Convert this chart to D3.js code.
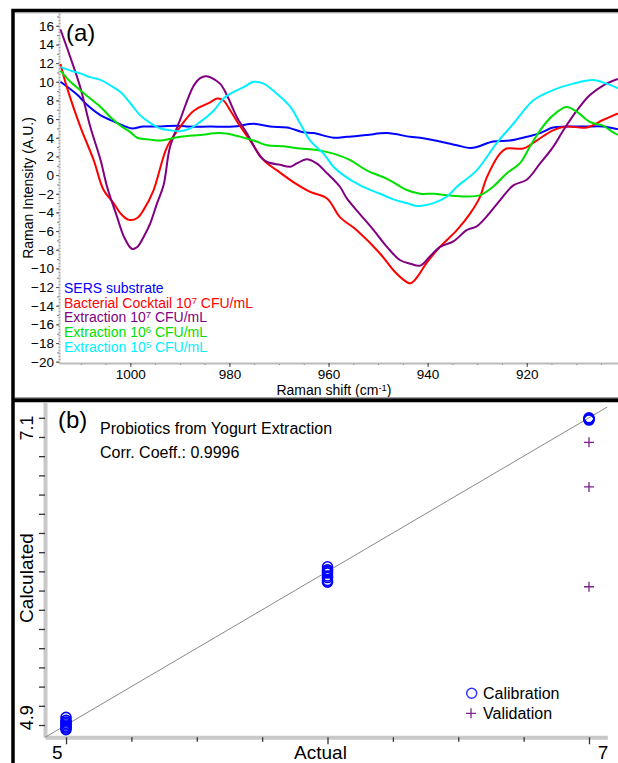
<!DOCTYPE html>
<html>
<head>
<meta charset="utf-8">
<script src="https://cdn.jsdelivr.net/npm/d3@7"></script>
<style>
body { margin: 0; background: #fff; }
text { font-family: "Liberation Sans", Arial, sans-serif; }
</style>
</head>
<body>
<div id="chart"></div>
<script>

// ---------- panel (a): Raman spectra ----------
var sersShift = [1014.1, 1010.7, 1008.7, 1006.0, 1004.0, 1001.4, 999.7, 997.4, 993.9, 990.6, 988.6, 983.9, 979.2, 975.1, 971.8, 968.4, 965.1, 963.0, 959.0, 956.3, 952.3, 948.2, 943.5, 941.5, 937.5, 934.1, 931.4, 930.1, 926.8, 923.4, 920.0, 917.3, 914.7, 912.0, 907.9, 904.6, 901.6];
var sersVal   = [10.0, 8.6, 7.5, 6.4, 5.9, 5.3, 5.0, 5.2, 5.2, 5.3, 5.2, 5.2, 5.2, 5.5, 5.2, 5.1, 4.6, 4.5, 4.0, 4.1, 4.3, 4.5, 4.1, 4.0, 3.6, 3.2, 2.9, 3.0, 3.6, 3.7, 4.1, 4.5, 5.1, 5.2, 5.2, 5.2, 4.9];

var cocktailShift = [1014.1, 1012.8, 1010.1, 1007.4, 1005.4, 1003.4, 1002.0, 1000.3, 998.6, 997.3, 995.3, 992.6, 989.9, 987.2, 983.9, 982.5, 981.2, 979.8, 977.8, 975.8, 973.1, 970.4, 967.1, 963.7, 960.3, 957.7, 954.3, 949.6, 946.9, 944.9, 943.5, 942.2, 940.2, 937.5, 934.1, 931.4, 929.4, 928.1, 925.4, 924.1, 920.7, 918.0, 914.7, 912.0, 907.9, 904.6, 901.6];
var cocktailVal   = [11.9, 9.4, 5.2, 1.6, -1.6, -3.0, -4.1, -4.8, -4.6, -3.7, -1.6, 3.0, 5.2, 6.9, 7.8, 8.2, 8.0, 6.9, 5.2, 3.7, 1.6, 0.5, -0.75, -1.8, -2.5, -4.5, -5.9, -8.4, -10.2, -11.2, -11.6, -11.0, -9.4, -7.7, -5.9, -4.1, -2.3, -0.3, 2.3, 2.85, 2.85, 3.7, 4.8, 5.2, 5.1, 5.9, 6.6];

var ext7Shift = [1014.1, 1012.1, 1010.1, 1008.1, 1006.0, 1004.7, 1002.7, 1001.3, 999.7, 998.6, 997.3, 996.0, 994.6, 993.3, 992.0, 989.9, 987.3, 985.9, 984.6, 981.9, 980.5, 978.5, 976.5, 973.8, 972.4, 969.8, 967.7, 966.4, 964.4, 962.4, 960.3, 957.7, 956.3, 953.8, 950.9, 948.2, 945.6, 943.5, 941.5, 939.5, 937.5, 934.8, 932.1, 930.1, 928.1, 925.4, 922.7, 920.0, 917.3, 914.7, 912.6, 909.9, 907.3, 904.6, 901.6];
var ext7Val   = [15.6, 12.6, 9.4, 5.2, 1.6, -1.25, -4.45, -6.6, -7.9, -7.7, -6.6, -5.2, -3.0, -1.1, 3.0, 6.0, 9.5, 10.4, 10.6, 9.8, 8.55, 6.2, 4.5, 2.0, 1.4, 1.1, 0.9, 1.25, 1.7, 1.25, 0.2, -1.25, -2.5, -4.1, -5.9, -7.7, -9.1, -9.5, -9.7, -8.7, -7.7, -7.1, -5.9, -5.5, -4.45, -2.7, -1.1, -0.5, 1.25, 3.0, 4.8, 6.9, 8.55, 9.6, 10.3];

var ext6Shift = [1014.1, 1012.1, 1010.1, 1008.1, 1006.0, 1004.0, 1002.0, 1000.0, 998.6, 996.0, 993.9, 991.9, 989.9, 985.9, 981.9, 979.2, 975.1, 972.4, 969.1, 965.7, 962.4, 959.0, 955.6, 952.3, 948.2, 944.2, 941.5, 938.8, 935.5, 932.1, 929.4, 926.8, 924.0, 921.4, 919.4, 917.3, 914.7, 912.0, 909.9, 907.3, 904.6, 902.6, 901.6];
var ext6Val   = [11.2, 10.0, 9.1, 8.2, 7.3, 6.2, 5.3, 4.6, 4.0, 3.8, 3.7, 3.9, 4.1, 4.3, 4.5, 4.3, 3.7, 3.2, 3.1, 2.85, 2.7, 2.3, 1.6, 0.5, -0.4, -1.6, -2.0, -2.0, -2.2, -2.3, -2.15, -1.25, 0.2, 1.25, 3.0, 4.8, 6.4, 7.3, 6.8, 5.7, 5.3, 4.6, 4.3];

var ext5Shift = [1014.1, 1012.1, 1010.1, 1008.1, 1006.0, 1004.0, 1002.0, 1000.0, 998.0, 996.0, 993.9, 991.9, 989.9, 987.9, 985.9, 983.2, 981.2, 979.2, 977.2, 975.1, 973.1, 970.4, 967.7, 965.7, 963.7, 961.0, 959.0, 957.0, 953.6, 949.6, 946.9, 944.2, 942.2, 938.8, 936.1, 934.1, 930.1, 926.1, 922.7, 918.7, 914.7, 910.6, 906.6, 903.9, 901.6];
var ext5Val   = [11.6, 11.2, 10.9, 10.5, 10.2, 9.6, 8.9, 7.7, 6.4, 5.6, 5.0, 4.8, 4.7, 5.0, 5.7, 6.9, 8.2, 8.9, 9.4, 10.0, 9.8, 8.7, 7.3, 5.5, 3.7, 2.3, 0.9, 0.0, -1.1, -2.0, -2.6, -3.0, -3.3, -3.0, -2.3, -1.25, 0.5, 3.4, 5.5, 8.0, 9.1, 9.8, 10.2, 9.8, 9.3];

// legend text: [before superscript, superscript, after]
var legendA = [
  ["SERS substrate", "", ""],
  ["Bacterial Cocktail 10", "7", " CFU/mL"],
  ["Extraction 10", "7", " CFU/mL"],
  ["Extraction 10", "6", " CFU/mL"],
  ["Extraction 10", "5", " CFU/mL"]
];
var colorsA = ["#0000ff", "#ff0000", "#800080", "#00e000", "#00f0ff"];
var yTicksA = d3.range(-20, 17, 2);
var xTicksA = [1000, 980, 960, 940, 920];

// ---------- panel (b): calculated vs actual ----------
var calActual = [5, 5, 5, 5, 5, 5, 5, 5, 6, 6, 6, 6, 6, 6, 6, 6, 7, 7, 7, 7];
var calCalc   = [5.05, 5.03, 5.02, 5.01, 5.0, 4.99, 4.98, 4.97, 6.03, 6.01, 6.0, 5.99, 5.97, 5.96, 5.94, 5.93, 7.0, 6.995, 6.99, 6.985];
var valActual = [7, 7, 7];
var valCalc   = [6.84, 6.55, 5.90];

var svg = d3.select("#chart").append("svg")
    .attr("width", 618)
    .attr("height", 763)
    .style("background", "#fff");

// ===== panel (a) =====
var xa = d3.scaleLinear().domain([1014.4, 900]).range([59, 625.8]);
var ya = d3.scaleLinear().domain([-20.15, 17.5]).range([363.1, 11.8]);

svg.append("clipPath").attr("id", "clipA")
  .append("rect").attr("x", 59).attr("y", 12).attr("width", 560).attr("height", 352);

// minor ticks
svg.append("g")
    .attr("transform", "translate(59,0)")
    .call(d3.axisLeft(ya).tickValues(d3.range(-20, 18, 1)).tickSize(2).tickFormat("").tickSizeOuter(0))
    .call(function(g) { g.select(".domain").remove(); g.selectAll("line").attr("stroke", "#777"); });

var yAxA = svg.append("g")
    .attr("transform", "translate(59,0)")
    .call(d3.axisLeft(ya).tickValues(yTicksA).tickSize(3).tickPadding(2).tickSizeOuter(0));
yAxA.select(".domain").attr("stroke", "#aaa").attr("stroke-width", 2).attr("stroke-dasharray", "2,1");
yAxA.selectAll("line").attr("stroke", "#555");
yAxA.selectAll("text").style("font-size", "13.5px").attr("fill", "#000");

svg.append("g")
    .attr("transform", "translate(0,363)")
    .call(d3.axisBottom(xa).tickValues(d3.range(1010, 900, -5)).tickSize(2).tickFormat("").tickSizeOuter(0))
    .call(function(g) { g.select(".domain").remove(); g.selectAll("line").attr("stroke", "#555"); });

var xAxA = svg.append("g")
    .attr("transform", "translate(0,363)")
    .call(d3.axisBottom(xa).tickValues(xTicksA).tickFormat(d3.format("d")).tickSize(4).tickPadding(2).tickSizeOuter(0));
xAxA.select(".domain").attr("stroke", "#bbb").attr("stroke-width", 2);
xAxA.selectAll("line").attr("stroke", "#444");
xAxA.selectAll("text").style("font-size", "13.5px").attr("fill", "#000");

var seriesA = [
  [sersShift, sersVal],
  [cocktailShift, cocktailVal],
  [ext7Shift, ext7Val],
  [ext6Shift, ext6Val],
  [ext5Shift, ext5Val]
];

var lineA = d3.line()
    .x(function(d) { return xa(d[0]); })
    .y(function(d) { return ya(d[1]); })
    .curve(d3.curveCatmullRom.alpha(0.5));

var gLines = svg.append("g").attr("clip-path", "url(#clipA)");
seriesA.forEach(function(s, i) {
  var pts = s[0].map(function(x, j) { return [x, s[1][j]]; });
  gLines.append("path")
      .datum(pts)
      .attr("fill", "none")
      .attr("stroke", colorsA[i])
      .attr("stroke-width", 2)
      .attr("stroke-linejoin", "round")
      .attr("d", lineA);
});

// legend (a)
legendA.forEach(function(l, i) {
  var t = svg.append("text")
      .attr("x", 64)
      .attr("y", 293 + i * 14.7)
      .attr("fill", colorsA[i])
      .style("font-size", "14px");
  t.append("tspan").text(l[0]);
  if (l[1]) {
    t.append("tspan").attr("dy", -4).style("font-size", "9.5px").text(l[1]);
    t.append("tspan").attr("dy", 4).text(l[2]);
  }
});

svg.append("text")
    .attr("x", 66).attr("y", 41)
    .style("font-size", "24px")
    .text("(a)");

var xLab = svg.append("text")
    .attr("x", 334).attr("y", 395)
    .attr("text-anchor", "middle")
    .style("font-size", "14px");
xLab.append("tspan").text("Raman shift (cm");
xLab.append("tspan").attr("dy", -4).style("font-size", "9.5px").text("-1");
xLab.append("tspan").attr("dy", 4).text(")");

svg.append("text")
    .attr("transform", "translate(33,188) rotate(-90)")
    .attr("text-anchor", "middle")
    .style("font-size", "14px")
    .text("Raman Intensity (A.U.)");

// ===== panel (b) =====
var xb = d3.scaleLinear().domain([4.92, 7.07]).range([45.1, 607.3]);
var yb = d3.scaleLinear().domain([4.92, 7.1]).range([737.3, 402.4]);

var yAxB = svg.append("g")
    .attr("transform", "translate(45,0)")
    .call(d3.axisLeft(yb).tickValues(d3.range(5, 7.01, 0.125)).tickSize(6).tickFormat("").tickSizeOuter(0));
yAxB.select(".domain").attr("stroke", "#c8c8c8").attr("stroke-width", 4);
yAxB.selectAll("line").attr("stroke", "#333").attr("stroke-width", 1.3);

var xAxB = svg.append("g")
    .attr("transform", "translate(0,737.3)")
    .call(d3.axisBottom(xb).tickValues(d3.range(5.25, 7, 0.25).filter(function(v) { return v !== 6; })).tickSize(4.5).tickFormat("").tickSizeOuter(0));
xAxB.select(".domain").attr("stroke", "#c8c8c8").attr("stroke-width", 4);
xAxB.selectAll("line").attr("stroke", "#333").attr("stroke-width", 1.3);

svg.append("g")
    .attr("transform", "translate(0,737.3)")
    .call(d3.axisBottom(xb).tickValues([5, 6, 7]).tickSize(7).tickFormat("").tickSizeOuter(0))
    .call(function(g) { g.select(".domain").remove(); g.selectAll("line").attr("stroke", "#333").attr("stroke-width", 1.3); });

// end labels of the axes
var fy = d3.format(".1f"), fx = d3.format(".0f");
var yd = yb.domain(), xd = xb.domain();
svg.append("text")
    .attr("transform", "translate(33," + (yb(yd[1]) + 13) + ") rotate(-90)")
    .attr("text-anchor", "end")
    .style("font-size", "18px")
    .text(fy(yd[1]));
svg.append("text")
    .attr("transform", "translate(33," + (yb(yd[0]) - 7) + ") rotate(-90)")
    .attr("text-anchor", "start")
    .style("font-size", "18px")
    .text(fy(yd[0]));
svg.append("text")
    .attr("x", xb(xd[0]) + 7).attr("y", 759)
    .attr("text-anchor", "start")
    .style("font-size", "19px")
    .text(fx(xd[0]));
svg.append("text")
    .attr("x", xb(xd[1]) + 1).attr("y", 759)
    .attr("text-anchor", "end")
    .style("font-size", "19px")
    .text(fx(xd[1]));

svg.append("text")
    .attr("x", 320.5).attr("y", 759)
    .attr("text-anchor", "middle")
    .style("font-size", "19px")
    .text("Actual");

svg.append("text")
    .attr("transform", "translate(33,578) rotate(-90)")
    .attr("text-anchor", "middle")
    .style("font-size", "19px")
    .text("Calculated");

// ideal line
svg.append("line")
    .attr("x1", xb(xd[0])).attr("y1", yb(xd[0]))
    .attr("x2", xb(xd[1])).attr("y2", yb(xd[1]))
    .attr("stroke", "#888")
    .attr("stroke-width", 1);

svg.selectAll(".cal")
    .data(calActual)
  .enter().append("circle")
    .attr("class", "cal")
    .attr("cx", function(d) { return xb(d); })
    .attr("cy", function(d, i) { return yb(calCalc[i]); })
    .attr("r", 5)
    .attr("fill", "none")
    .attr("stroke", "#0000ff")
    .attr("stroke-width", 1.6);

svg.selectAll(".val")
    .data(valActual)
  .enter().append("path")
    .attr("class", "val")
    .attr("transform", function(d, i) { return "translate(" + xb(d) + "," + yb(valCalc[i]) + ")"; })
    .attr("d", "M-5,0H5M0,-5V5")
    .attr("stroke", "#7f1f8f")
    .attr("stroke-width", 1.3);

svg.append("text")
    .attr("x", 58).attr("y", 428)
    .style("font-size", "24px")
    .text("(b)");
svg.append("text")
    .attr("x", 100).attr("y", 434)
    .style("font-size", "16px")
    .text("Probiotics from Yogurt Extraction");
svg.append("text")
    .attr("x", 100).attr("y", 458)
    .style("font-size", "16px")
    .text("Corr. Coeff.: 0.9996");

// legend (b)
svg.append("circle")
    .attr("cx", 471.7).attr("cy", 693.3).attr("r", 5)
    .attr("fill", "none").attr("stroke", "#3333ff").attr("stroke-width", 1.5);
svg.append("text").attr("x", 483).attr("y", 699).style("font-size", "16px").text("Calibration");
svg.append("path")
    .attr("transform", "translate(471,713.3)")
    .attr("d", "M-5,0H5M0,-5V5")
    .attr("stroke", "#7f1f8f").attr("stroke-width", 1.3);
svg.append("text").attr("x", 483).attr("y", 718.5).style("font-size", "16px").text("Validation");

// ===== frames =====
svg.append("path")
    .attr("d", "M13,763V10.5H618")
    .attr("fill", "none")
    .attr("stroke", "#000")
    .attr("stroke-width", 3.5);
svg.append("line")
    .attr("x1", 15).attr("x2", 618).attr("y1", 12.8).attr("y2", 12.8)
    .attr("stroke", "#999").attr("stroke-width", 1);
svg.append("line")
    .attr("x1", 13).attr("x2", 618).attr("y1", 400.3).attr("y2", 400.3)
    .attr("stroke", "#000").attr("stroke-width", 4);
svg.append("line")
    .attr("x1", 15).attr("x2", 618).attr("y1", 397.6).attr("y2", 397.6)
    .attr("stroke", "#999").attr("stroke-width", 1);

</script>
</body>
</html>
